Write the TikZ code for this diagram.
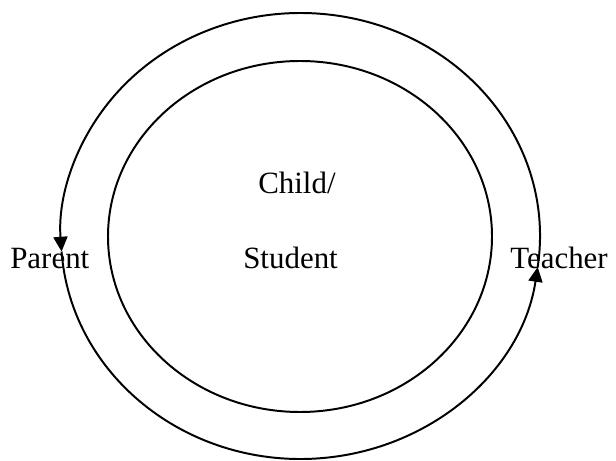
\documentclass[tikz,border=0pt]{standalone}
\usepackage{fontspec}
\setmainfont{Liberation Serif}
\usetikzlibrary{arrows.meta}
\tikzset{
	ring/.style={line width=1.4pt,-{Triangle[length=10.5pt,width=10pt]}},
	word/.style={inner sep=0pt,anchor=base west,font=\fontsize{22}{26}\selectfont}
}
\begin{document}
\begin{tikzpicture}[x=0.025cm,y=0.025cm]
		\useasboundingbox(0,0)rectangle(616,460);
		\draw[line width=1.4pt](300,223.5)ellipse[x radius=192,y radius=175.5];
		\path(300.5,224)coordinate(O) +(-8:239.5 and 223)coordinate(T) +(184:239.5 and 223)coordinate(P);
		\draw[ring](T)arc[start angle=-8,end angle=184,x radius=239.5,y radius=223];
		\draw[ring](P)arc[start angle=184,end angle=352,x radius=239.5,y radius=223];
		\node[word](child)at(258,266){Child/};
		\node[word](student)at(243,191){Student};
		\node[word](parent)at(10,191){Parent};
		\node[word](teacher)at(510,191){Teacher};
	\end{tikzpicture}
\end{document}
